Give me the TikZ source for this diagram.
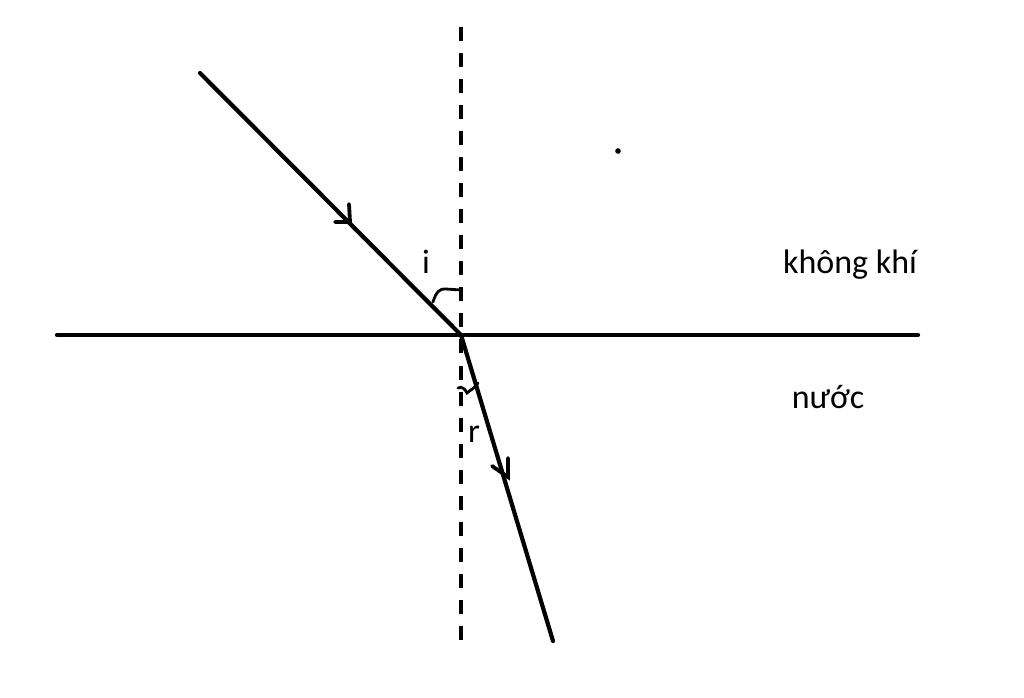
\documentclass[tikz,border=0pt]{standalone}
\usepackage{fontspec}
\setmainfont{Carlito}
\begin{document}
\begin{tikzpicture}[x=1pt,y=-1pt,
  ray/.style={line width=4.2pt,line cap=round},
  normalline/.style={line width=4.8pt,dash pattern=on 14pt off 12.04pt},
  lbl/.style={anchor=base,inner sep=0pt,font=\fontsize{34}{40}\selectfont},
  arc/.style={line width=2.8pt,line cap=round}]
\useasboundingbox[fill=white] (0,0) rectangle (1024,697);
\coordinate (O) at (461,335);
\coordinate (NT) at (461,27);
\coordinate (NB) at (461,640);
\coordinate (L) at (57,335);
\coordinate (R) at (918,335);
\coordinate (A) at (200,73);
\coordinate (B) at (553,641);
% surface and normal
\draw[ray] (L) -- (R);
\draw[normalline] (NT) -- (NB);
% rays
\draw[ray] (A) -- (O);
\draw[ray] (O) -- (B);
% arrowheads
\coordinate (T1) at (350,222);
\draw[arc,line width=3.8pt] (349,204) -- (T1) -- (335,222);
\coordinate (T2) at (508,477);
\draw[arc,line width=3.8pt] (508,458) -- (T2) -- (492,466);
% angle marks
\draw[arc] (433,302) .. controls (436,292) and (440,288) .. (446,289) -- (461,290);
\draw[arc] (458,388) .. controls (462,386) and (465,389) .. (467,393) .. controls (470,390) and (474,389) .. (478,383);
% labels
\node[lbl] (i) at (426,273) {i};
\node[lbl] (r) at (474,442) {r};
\node[lbl] (air) at (850,273) {không khí};
\node[lbl] (water) at (828,408) {nước};
\fill (618,151) circle (2.8pt);
\end{tikzpicture}
\end{document}
